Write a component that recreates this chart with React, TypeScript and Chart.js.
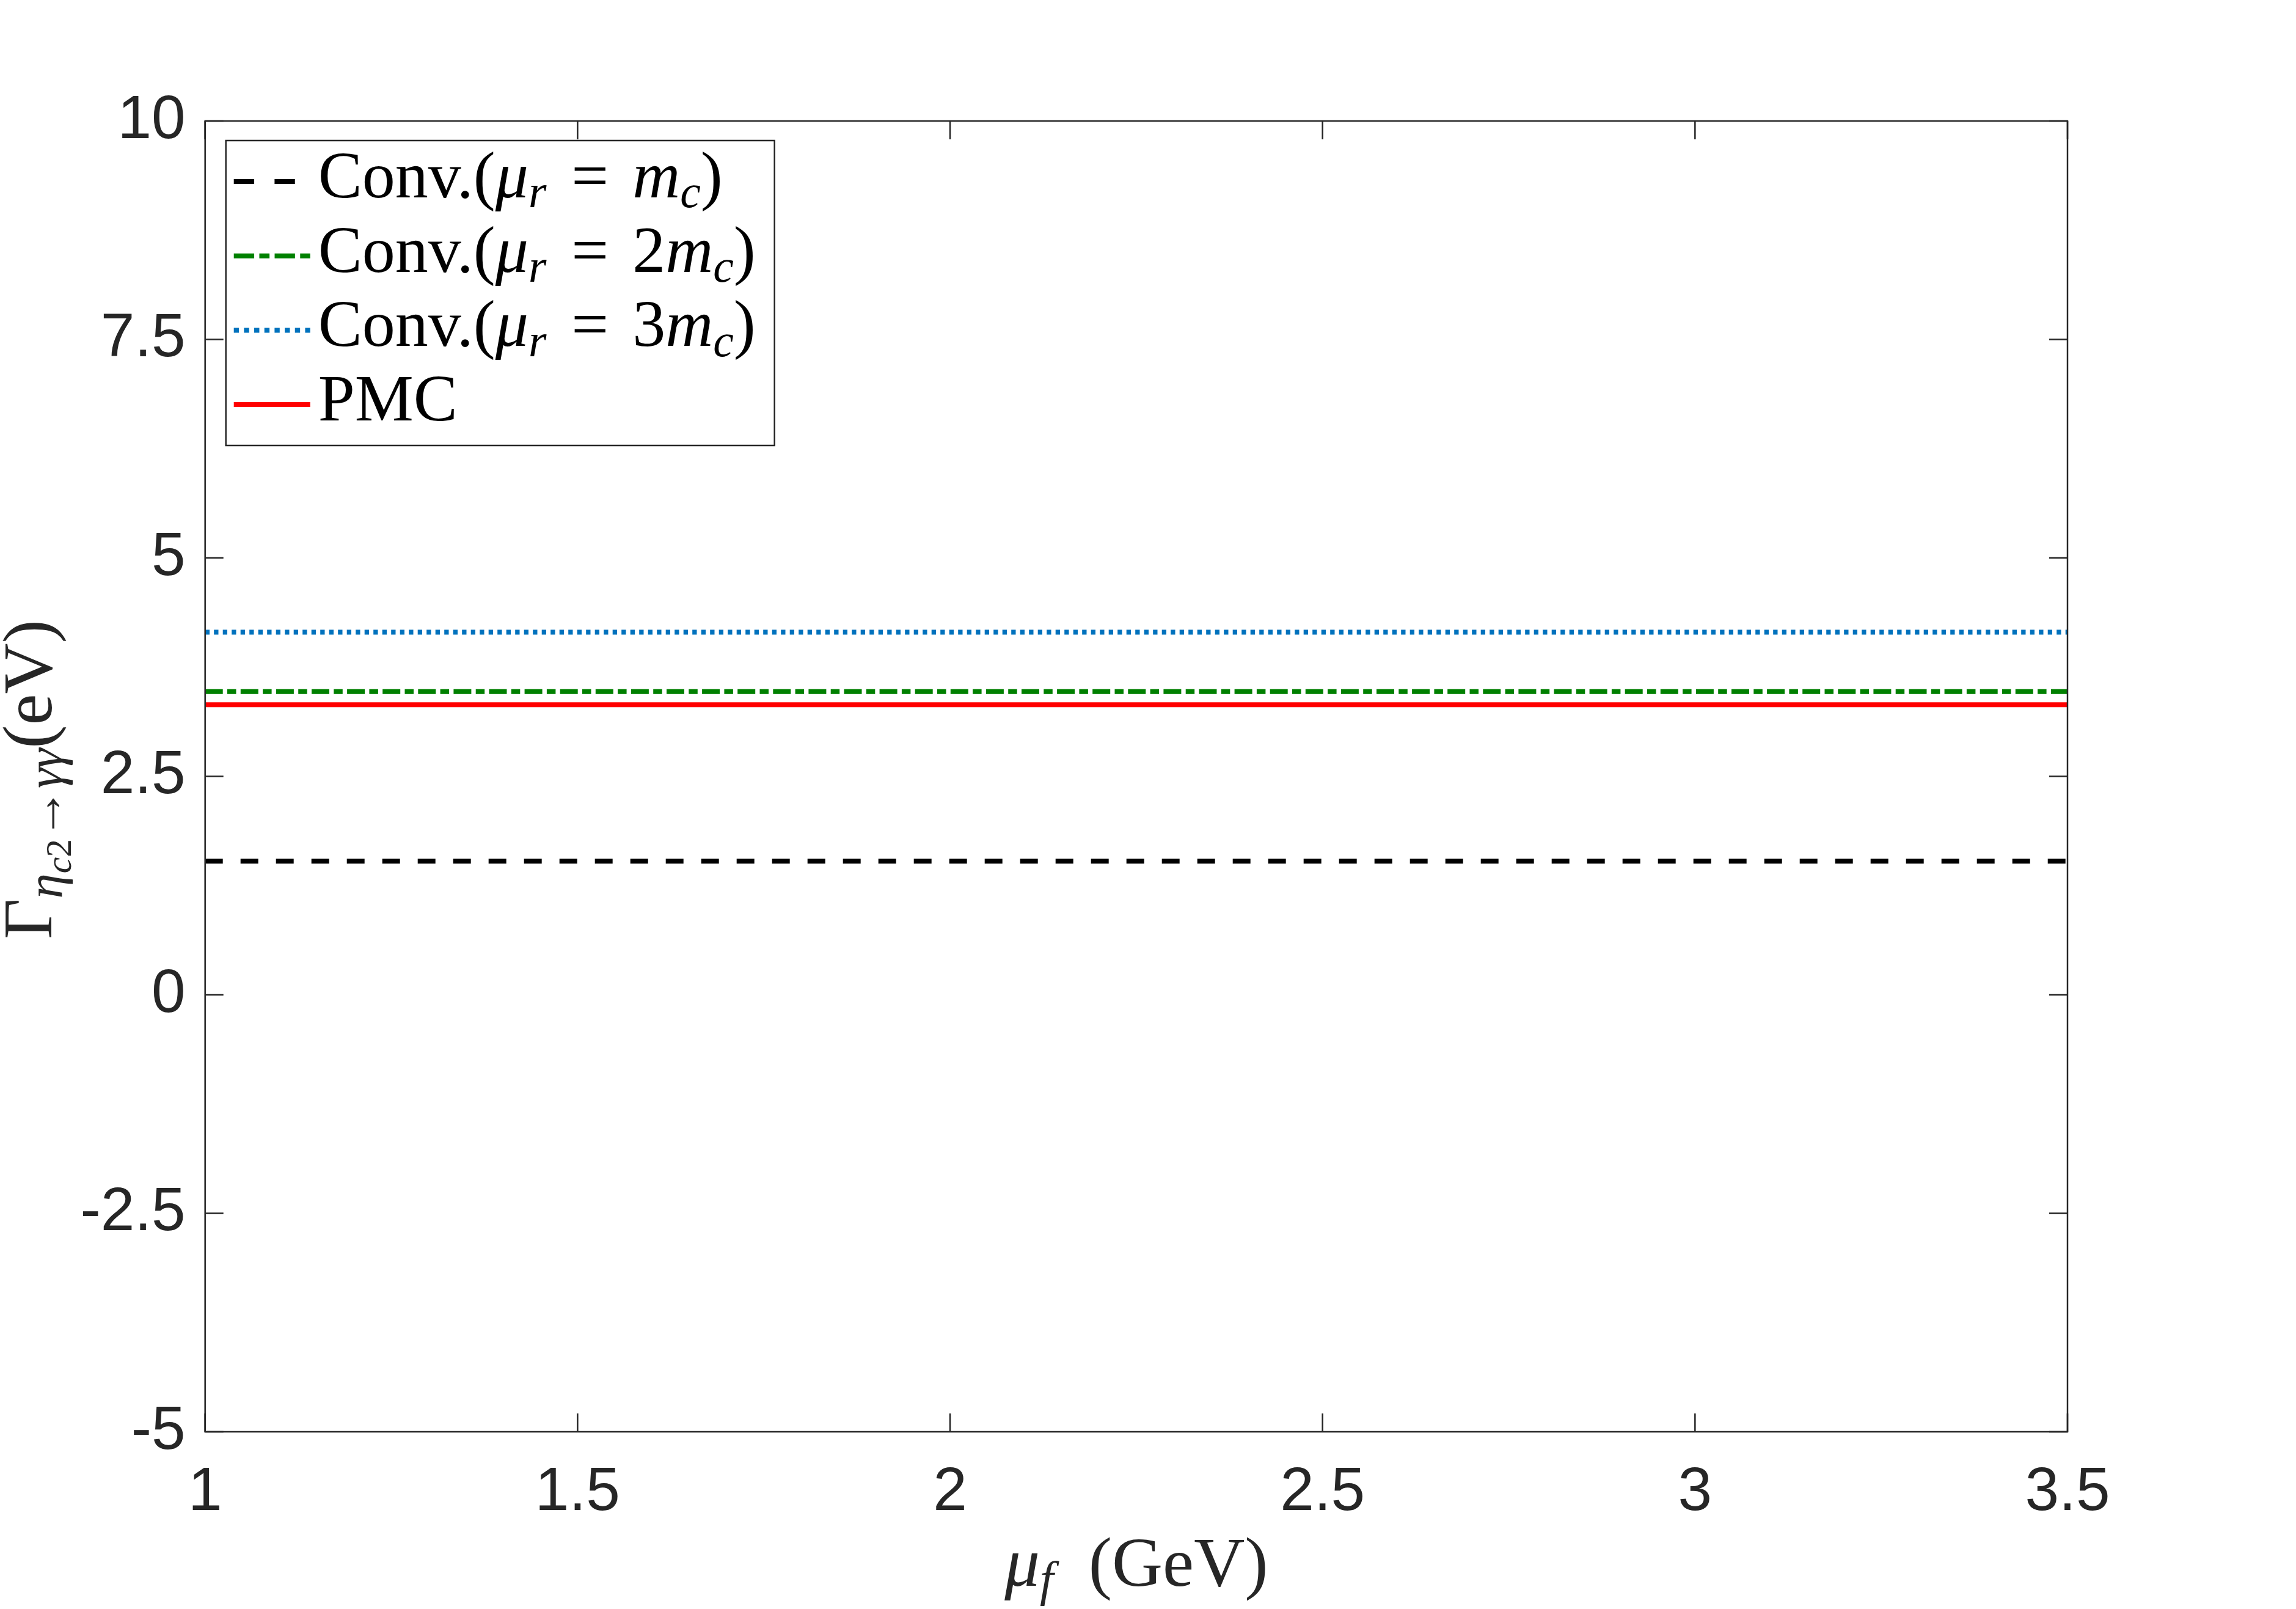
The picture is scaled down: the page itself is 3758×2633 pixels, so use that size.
import React, { useEffect, useRef } from "react";
import { Chart, registerables } from "chart.js";

Chart.register(...registerables);

// ---------- data ----------
const muF = [1.0, 1.5, 2.0, 2.5, 3.0, 3.5];
const convMc = [1.53, 1.53, 1.53, 1.53, 1.53, 1.53];
const conv2Mc = [3.47, 3.47, 3.47, 3.47, 3.47, 3.47];
const conv3Mc = [4.15, 4.15, 4.15, 4.15, 4.15, 4.15];
const pmc = [3.32, 3.32, 3.32, 3.32, 3.32, 3.32];

const xTicks = [1, 1.5, 2, 2.5, 3, 3.5];
const xTickLabels = ["1", "1.5", "2", "2.5", "3", "3.5"];
const yTicks = [-5, -2.5, 0, 2.5, 5, 7.5, 10];
const yTickLabels = ["-5", "-2.5", "0", "2.5", "5", "7.5", "10"];

const seriesNames = ["Conv.(μr = mc)", "Conv.(μr = 2mc)", "Conv.(μr = 3mc)", "PMC"];

type Seg = { t: string; it?: boolean; sc?: number; dy?: number; pre?: number };

const legendRich: Seg[][] = [
  [{ t: "Conv.(" }, { t: "μ", it: true }, { t: "r", it: true, sc: 0.7, dy: 0.15 }, { t: "=", pre: 0.38 }, { t: "m", it: true, pre: 0.36 }, { t: "c", it: true, sc: 0.7, dy: 0.15 }, { t: ")" }],
  [{ t: "Conv.(" }, { t: "μ", it: true }, { t: "r", it: true, sc: 0.7, dy: 0.15 }, { t: "=", pre: 0.38 }, { t: "2", pre: 0.36 }, { t: "m", it: true }, { t: "c", it: true, sc: 0.7, dy: 0.15 }, { t: ")" }],
  [{ t: "Conv.(" }, { t: "μ", it: true }, { t: "r", it: true, sc: 0.7, dy: 0.15 }, { t: "=", pre: 0.38 }, { t: "3", pre: 0.36 }, { t: "m", it: true }, { t: "c", it: true, sc: 0.7, dy: 0.15 }, { t: ")" }],
  [{ t: "PMC" }],
];

const xTitle: Seg[] = [{ t: "μ", it: true }, { t: "f", it: true, sc: 0.7, dy: 0.14 }, { t: "(GeV)", pre: 0.5 }];
const yTitle: Seg[] = [
  { t: "Γ" },
  { t: "η", it: true, sc: 0.72, dy: 0.15 },
  { t: "c", it: true, sc: 0.52, dy: 0.28 },
  { t: "2", sc: 0.52, dy: 0.28 },
  { t: "→", sc: 0.72, dy: 0.15 },
  { t: "γγ", it: true, sc: 0.72, dy: 0.15 },
  { t: "(eV)" },
];

const SERIF = '"Liberation Serif", "Times New Roman", serif';
const SANS = '"Liberation Sans", Arial, Helvetica, sans-serif';
const AX = "#262626";

function segFont(s: Seg, base: number) {
  return `${s.it ? "italic " : ""}${base * (s.sc ?? 1)}px ${SERIF}`;
}

function richWidth(ctx: CanvasRenderingContext2D, segs: Seg[], base: number) {
  let w = 0;
  for (const s of segs) {
    ctx.font = segFont(s, base);
    w += (s.pre ?? 0) * base + ctx.measureText(s.t).width;
  }
  return w;
}

function drawRich(ctx: CanvasRenderingContext2D, segs: Seg[], x: number, y: number, base: number, align: "left" | "center", color: string) {
  let cx = align === "center" ? x - richWidth(ctx, segs, base) / 2 : x;
  ctx.fillStyle = color;
  ctx.textAlign = "left";
  ctx.textBaseline = "alphabetic";
  for (const s of segs) {
    ctx.font = segFont(s, base);
    cx += (s.pre ?? 0) * base;
    ctx.fillText(s.t, cx, y + (s.dy ?? 0) * base);
    cx += ctx.measureText(s.t).width;
  }
}

const TICK_LEN = 30;

const framePlugin = {
  id: "matlabFrame",
  afterDatasetsDraw(chart: any) {
    const { ctx, chartArea: a, scales } = chart;
    ctx.save();
    // box
    ctx.strokeStyle = AX;
    ctx.lineWidth = 2.5;
    ctx.setLineDash([]);
    ctx.strokeRect(a.left, a.top, a.right - a.left, a.bottom - a.top);
    ctx.beginPath();
    for (const v of xTicks) {
      const px = scales.x.getPixelForValue(v);
      ctx.moveTo(px, a.bottom);
      ctx.lineTo(px, a.bottom - TICK_LEN);
      ctx.moveTo(px, a.top);
      ctx.lineTo(px, a.top + TICK_LEN);
    }
    for (const v of yTicks) {
      const py = scales.y.getPixelForValue(v);
      ctx.moveTo(a.left, py);
      ctx.lineTo(a.left + TICK_LEN, py);
      ctx.moveTo(a.right, py);
      ctx.lineTo(a.right - TICK_LEN, py);
    }
    ctx.stroke();

    // legend
    const lx = a.left + 34, ly = a.top + 32, lw = 898, lh = 499;
    ctx.fillStyle = "#ffffff";
    ctx.fillRect(lx, ly, lw, lh);
    ctx.strokeStyle = AX;
    ctx.lineWidth = 2.5;
    ctx.strokeRect(lx, ly, lw, lh);
    const rowH = 121.7;
    chart.data.datasets.forEach((ds: any, i: number) => {
      const cy = ly + 67 + i * rowH;
      ctx.save();
      ctx.strokeStyle = ds.borderColor;
      ctx.lineWidth = ds.borderWidth;
      ctx.lineCap = "butt";
      ctx.setLineDash((ds.borderDash || []).map((d: number) => d * 1.15));
      ctx.beginPath();
      ctx.moveTo(lx + 13, cy);
      ctx.lineTo(lx + 138, cy);
      ctx.stroke();
      ctx.restore();
      drawRich(ctx, legendRich[i], lx + 151, cy + 26, 108, "left", "#000000");
    });

    // axis titles
    const cxMid = (a.left + a.right) / 2;
    drawRich(ctx, xTitle, cxMid, 2595, 115, "center", AX);
    ctx.save();
    ctx.translate(84, (a.top + a.bottom) / 2 + 5);
    ctx.rotate(-Math.PI / 2);
    drawRich(ctx, yTitle, 0, 0, 115, "center", AX);
    ctx.restore();
    ctx.restore();
  },
};

export default function App() {
  const ref = useRef<HTMLCanvasElement | null>(null);
  useEffect(() => {
    if (!ref.current) return;
    const mk = (vals: number[]) => muF.map((x, i) => ({ x, y: vals[i] }));
    const tickFont = { family: SANS, size: 100 };
    const chart = new Chart(ref.current, {
      type: "line",
      data: {
        datasets: [
          { label: seriesNames[0], data: mk(convMc), borderColor: "#000000", borderWidth: 8, borderDash: [29, 29], borderCapStyle: "butt", pointRadius: 0, fill: false },
          { label: seriesNames[1], data: mk(conv2Mc), borderColor: "#008000", borderWidth: 8, borderDash: [29, 7.3, 14.5, 7.3], borderCapStyle: "butt", pointRadius: 0, fill: false },
          { label: seriesNames[2], data: mk(conv3Mc), borderColor: "#0072BD", borderWidth: 8, borderDash: [7.3, 7.2], borderCapStyle: "butt", pointRadius: 0, fill: false },
          { label: seriesNames[3], data: mk(pmc), borderColor: "#FF0000", borderWidth: 8, borderCapStyle: "round", pointRadius: 0, fill: false },
        ],
      },
      options: {
        responsive: false,
        animation: false,
        devicePixelRatio: 1,
        layout: { padding: { top: 198, right: 374, bottom: 0, left: 0 } },
        plugins: { legend: { display: false }, tooltip: { enabled: false } },
        elements: { line: { tension: 0 }, point: { radius: 0 } },
        scales: {
          x: {
            type: "linear",
            min: 1,
            max: 3.5,
            afterBuildTicks: (s: any) => {
              s.ticks = xTicks.map((v) => ({ value: v }));
            },
            afterFit: (s: any) => {
              s.height = 290;
            },
            ticks: {
              callback: (_v: any, i: number) => xTickLabels[i],
              font: tickFont,
              color: AX,
              padding: 40,
              maxRotation: 0,
              autoSkip: false,
            },
            grid: { display: false, drawTicks: false },
            border: { display: false },
          },
          y: {
            type: "linear",
            min: -5,
            max: 10,
            afterBuildTicks: (s: any) => {
              s.ticks = yTicks.map((v) => ({ value: v }));
            },
            afterFit: (s: any) => {
              s.width = 335.7;
            },
            ticks: {
              callback: (_v: any, i: number) => yTickLabels[i],
              font: tickFont,
              color: AX,
              padding: 32,
              autoSkip: false,
            },
            grid: { display: false, drawTicks: false },
            border: { display: false },
          },
        },
      } as any,
      plugins: [framePlugin],
    });
    return () => chart.destroy();
  }, []);
  return (
    <div style={{ position: "absolute", left: 0, top: 0, width: 3758, height: 2633, background: "#ffffff" }}>
      <canvas ref={ref} width={3758} height={2633} style={{ display: "block" }} />
    </div>
  );
}
